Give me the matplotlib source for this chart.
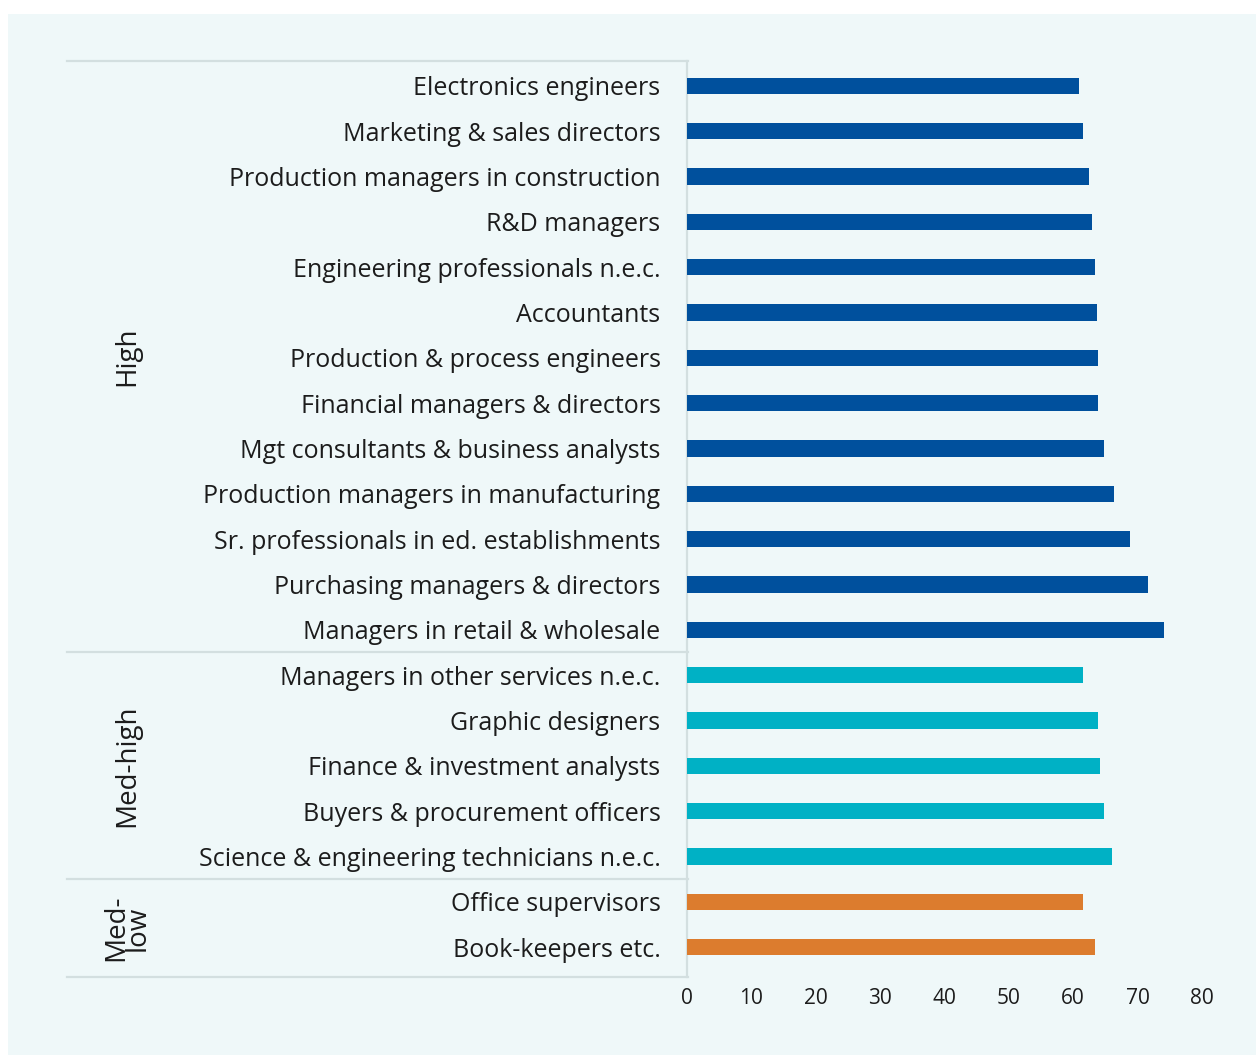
import matplotlib.pyplot as plt
from matplotlib.patches import Rectangle
from matplotlib.lines import Line2D
from matplotlib.transforms import blended_transform_factory

plt.rcParams['font.family'] = ['Open Sans', 'DejaVu Sans']

# Occupations, top to bottom
high_jobs = ['Electronics engineers', 'Marketing & sales directors',
             'Production managers in construction', 'R&D managers',
             'Engineering professionals n.e.c.', 'Accountants',
             'Production & process engineers', 'Financial managers & directors',
             'Mgt consultants & business analysts',
             'Production managers in manufacturing',
             'Sr. professionals in ed. establishments',
             'Purchasing managers & directors', 'Managers in retail & wholesale']
high_vals = [60.9, 61.5, 62.4, 63.0, 63.4, 63.7, 63.8, 63.8, 64.8, 66.3, 68.8, 71.6, 74.1]

medhigh_jobs = ['Managers in other services n.e.c.', 'Graphic designers',
                'Finance & investment analysts', 'Buyers & procurement officers',
                'Science & engineering technicians n.e.c.']
medhigh_vals = [61.5, 63.8, 64.1, 64.8, 66.1]

medlow_jobs = ['Office supervisors', 'Book-keepers etc.']
medlow_vals = [61.5, 63.4]

groups = ['High', 'Med-high', 'Med-\nlow']
group_colors = ['#00509d', '#00b1c5', '#dc7c2e']

xticks = [0, 10, 20, 30, 40, 50, 60, 70, 80]

W, H = 1256, 1055
fig = plt.figure(figsize=(W / 100, H / 100), dpi=100, facecolor='white')
fig.add_artist(Rectangle((8 / W, 0), 1 - 8 / W, 1 - 14 / H, transform=fig.transFigure,
                         facecolor='#eff8f9', edgecolor='none', zorder=0))

ax = fig.add_axes([687 / W, 78 / H, 547 / W, 916 / H])
ax.set_facecolor('none')

grid_c = '#d3dfe0'
text_c = '#1c1c1c'
labels, vals, cols, bounds = [], [], [], [0]
for jobs, v, c in zip([high_jobs, medhigh_jobs, medlow_jobs],
                      [high_vals, medhigh_vals, medlow_vals], group_colors):
    labels += jobs
    vals += v
    cols += [c] * len(jobs)
    bounds.append(bounds[-1] + len(jobs))

n = len(labels)
pos = list(range(n))
ax.barh(pos, vals, height=0.36, color=cols, zorder=3)
top, bottom = -0.55, n - 1 + 0.66
ax.set_ylim(bottom, top)
ax.set_xlim(0, 85)
ax.set_yticks(pos)
ax.set_yticklabels(labels, fontsize=18, color=text_c)
ax.set_xticks(xticks)
ax.set_xticklabels([str(t) for t in xticks], fontsize=15, color=text_c)
ax.tick_params(axis='y', length=0, pad=19)
ax.tick_params(axis='x', length=0, pad=8)
for s in ['top', 'right', 'bottom']:
    ax.spines[s].set_visible(False)
ax.spines['left'].set_color(grid_c)
ax.spines['left'].set_linewidth(1.6)

# group separators: axes edges at top and bottom, midway between rows inside
seps = [top] + [b - 0.5 for b in bounds[1:-1]] + [bottom]
trans = blended_transform_factory(fig.transFigure, ax.transData)
for y in seps:
    fig.add_artist(Line2D([67 / W, 688 / W], [y, y], transform=trans,
                          color=grid_c, lw=1.6, zorder=2))

for g, a, b in zip(groups, seps[:-1], seps[1:]):
    fig.text(127 / W, (a + b) / 2, g, transform=trans, rotation=90, ha='center',
             va='center', fontsize=20, color=text_c, linespacing=0.7)

fig.savefig('out.png', dpi=100, facecolor='white')
